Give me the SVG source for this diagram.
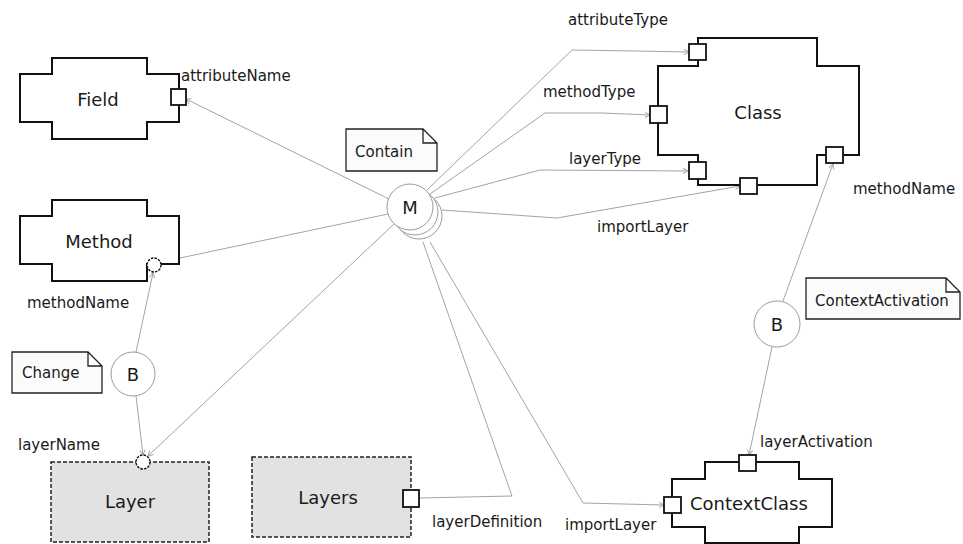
<svg xmlns="http://www.w3.org/2000/svg" width="963" height="544" viewBox="0 0 963 544">
<defs>
<marker id="arr" markerWidth="7" markerHeight="7" refX="6" refY="3.5" orient="auto" markerUnits="userSpaceOnUse">
<path d="M1,0.8 L6,3.5 L1,6.2" fill="none" stroke="#aaa" stroke-width="1"/>
</marker>
</defs>
<style>
text{font-family:"DejaVu Sans",Verdana,sans-serif;fill:#1a1a1a}
.lbl{font-size:15px}
.nl{font-size:18px;text-anchor:middle}
.comp{fill:#fff;stroke:#111;stroke-width:2}
.port{fill:#fff;stroke:#111;stroke-width:1.8}
.pc{fill:#fff;stroke:#111;stroke-width:1.4;stroke-dasharray:2.5,1.2}
.dash{fill:#e2e2e2;stroke:#222;stroke-width:1.5;stroke-dasharray:4,2}
.note{fill:#fbfbfb;stroke:#222;stroke-width:1.3}
.inst{fill:#fff;stroke:#9a9a9a;stroke-width:1}
.c{fill:none;stroke:#a3a3a3;stroke-width:1}
.a{marker-end:url(#arr)}
</style>
<g id="connectors">
<path class="c a" d="M389,199 L186,99"/>
<path class="c" d="M388,214 L180,258"/>
<path class="c a" d="M394,224 L148,456"/>
<path class="c a" d="M136,352 L153,273"/>
<path class="c a" d="M136,396 L143,455"/>
<path class="c a" d="M427,190 L572,50 L635,51 L689,52"/>
<path class="c a" d="M430,194 L545,113 L602,113 L650,115"/>
<path class="c a" d="M435,198 L540,170 L688,171"/>
<path class="c a" d="M442,210 L557,218 L740,186"/>
<path class="c a" d="M783,301 L833,164"/>
<path class="c a" d="M772,347 L749,455"/>
<path class="c" d="M423,242 L512,496 L419,498"/>
<path class="c a" d="M430,242 L583,503 L664,505"/>
</g>
<g id="Field">
<polygon class="comp" points="52,58 147,58 147,74 179,74 179,122 147,122 147,139 52,139 52,122 20,122 20,74 52,74"/>
<text class="nl" x="98" y="106">Field</text>
<rect class="port" x="171" y="89" width="15" height="16"/>
<text class="lbl" x="181" y="81">attributeName</text>
</g>
<g id="Method">
<polygon class="comp" points="52,200 147,200 147,216 179,216 179,264 147,264 147,281 52,281 52,264 20,264 20,216 52,216"/>
<text class="nl" x="99" y="248">Method</text>
<circle class="pc" cx="154" cy="265" r="7"/>
<text class="lbl" x="27" y="308">methodName</text>
</g>
<g id="Class">
<polygon class="comp" points="698,38 817,38 817,66 859,66 859,155 817,155 817,185 698,185 698,155 658,155 658,66 698,66"/>
<text class="nl" x="758" y="119">Class</text>
<rect class="port" x="689" y="44" width="17" height="16"/>
<rect class="port" x="650" y="106" width="17" height="17"/>
<rect class="port" x="689" y="162" width="17" height="17"/>
<rect class="port" x="740" y="178" width="17" height="16"/>
<rect class="port" x="826" y="147" width="17" height="16"/>
<text class="lbl" x="568" y="25">attributeType</text>
<text class="lbl" x="543" y="97">methodType</text>
<text class="lbl" x="569" y="164">layerType</text>
<text class="lbl" x="597" y="232">importLayer</text>
<text class="lbl" x="853" y="194">methodName</text>
</g>
<g id="Contain">
<path class="note" d="M346,129 L423,129 L437,143 L437,171 L346,171 Z M423,129 L423,143 L437,143"/>
<text class="lbl" x="355" y="157">Contain</text>
</g>
<g id="M">
<circle class="inst" cx="419" cy="216" r="23"/>
<circle class="inst" cx="415" cy="212" r="23"/>
<circle class="inst" cx="410" cy="207" r="23"/>
<text class="nl" x="410" y="214">M</text>
</g>
<g id="Change">
<path class="note" d="M12,352 L88,352 L102,366 L102,393 L12,393 Z M88,352 L88,366 L102,366"/>
<text class="lbl" x="22" y="378">Change</text>
</g>
<g id="B1">
<circle class="inst" cx="133" cy="374" r="22"/>
<text class="nl" x="133" y="381">B</text>
</g>
<g id="Layer">
<rect class="dash" x="51" y="462" width="158" height="80"/>
<text class="nl" x="130" y="508">Layer</text>
<circle class="pc" cx="143" cy="462" r="7"/>
<text class="lbl" x="18" y="450">layerName</text>
</g>
<g id="Layers">
<rect class="dash" x="252" y="457" width="159" height="80"/>
<text class="nl" x="328" y="504">Layers</text>
<rect class="port" x="403" y="490" width="16" height="17"/>
<text class="lbl" x="432" y="527">layerDefinition</text>
</g>
<g id="ContextActivation">
<path class="note" d="M806,278 L946,278 L960,292 L960,319 L806,319 Z M946,278 L946,292 L960,292"/>
<text class="lbl" x="815" y="306" font-size="14.5">ContextActivation</text>
</g>
<g id="B2">
<circle class="inst" cx="777" cy="324" r="23"/>
<text class="nl" x="777" y="331">B</text>
</g>
<g id="ContextClass">
<polygon class="comp" points="705,462 799,462 799,479 832,479 832,527 799,527 799,543 705,543 705,527 672,527 672,479 705,479"/>
<text class="nl" x="690" y="510" style="text-anchor:start">ContextClass</text>
<rect class="port" x="739" y="455" width="17" height="16"/>
<rect class="port" x="664" y="497" width="17" height="16"/>
<text class="lbl" x="760" y="447">layerActivation</text>
<text class="lbl" x="565" y="530">importLayer</text>
</g>
</svg>
